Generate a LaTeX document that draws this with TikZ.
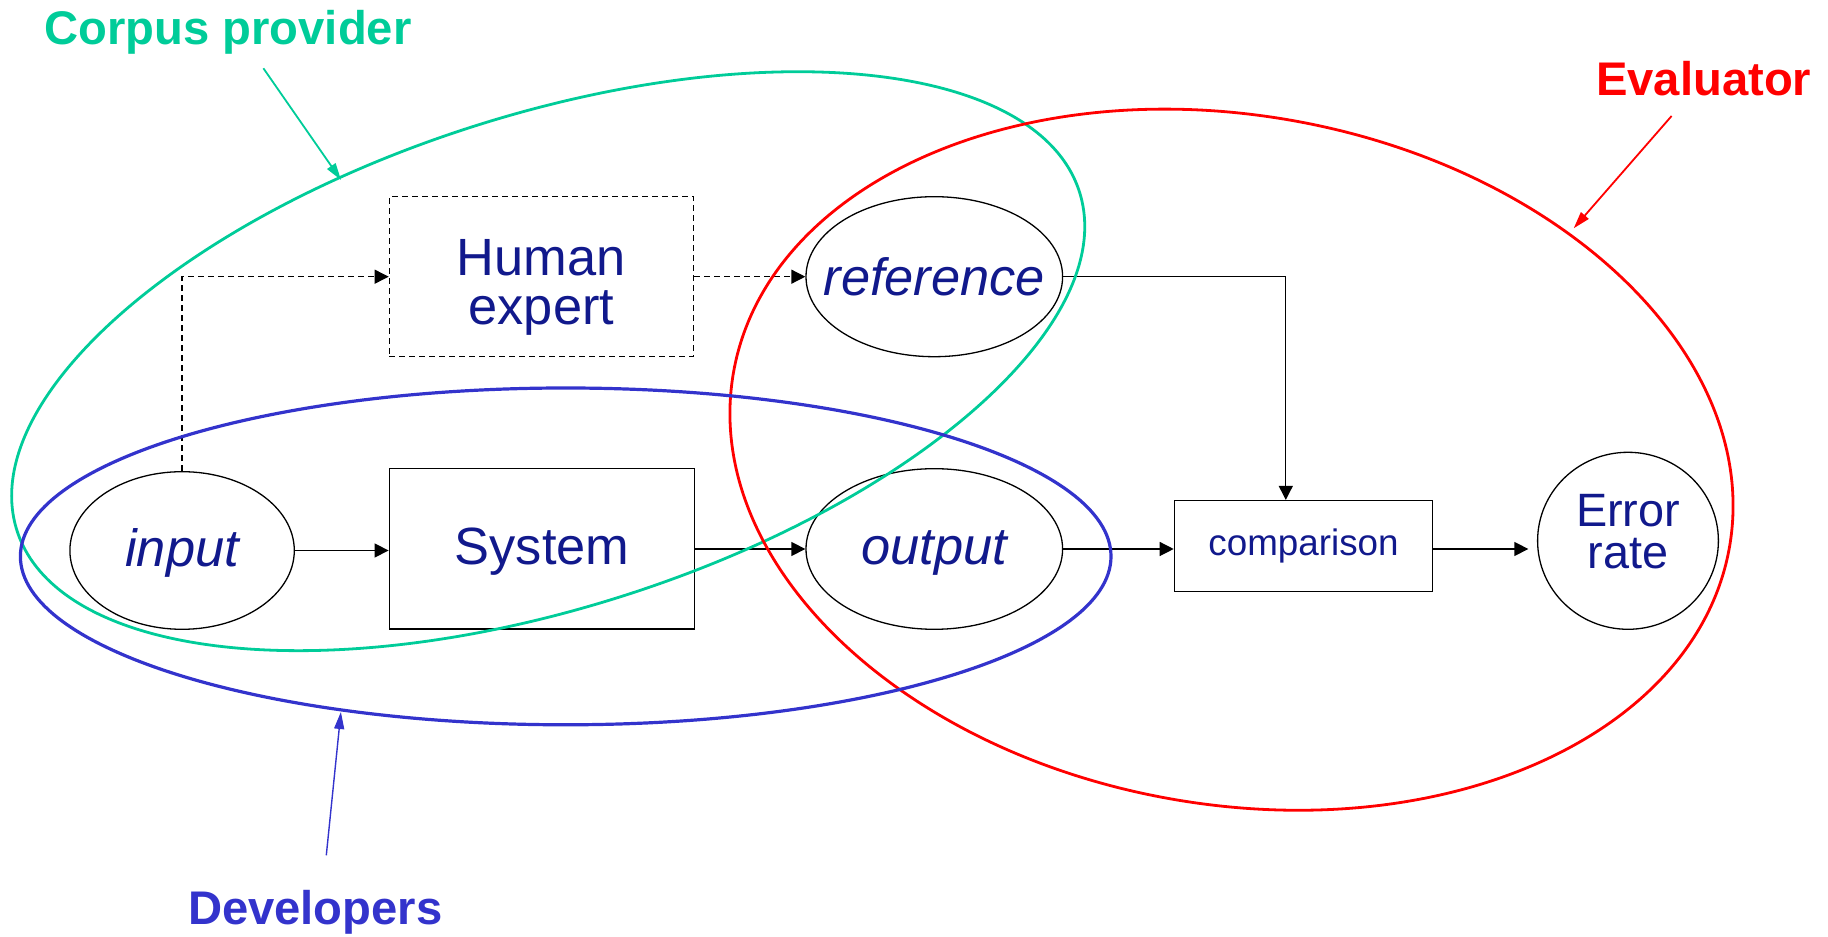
\documentclass[tikz,border=0pt]{standalone}
\usepackage{fontspec}
\setmainfont{Liberation Sans}
\usetikzlibrary{shapes.geometric,arrows.meta,calc}
\definecolor{navy}{RGB}{17,25,140}
\definecolor{cgreen}{RGB}{0,204,153}
\definecolor{cblue}{RGB}{51,51,204}
\definecolor{cred}{RGB}{255,0,0}
\newcommand{\lowerby}[2]{\raisebox{-#1}[\height][\depth]{#2}}
\begin{document}
\begin{tikzpicture}[x=0.5pt,y=0.5pt,
  every node/.style={text=navy},
  oval/.style={draw, ellipse, inner sep=0pt, line width=0.65pt},
  box/.style={draw, rectangle, inner sep=0pt, line width=0.8pt},
  dbox/.style={draw, rectangle, inner sep=0pt, line width=0.65pt, dash pattern=on 3pt off 2pt},
  mainfont/.style={font=\fontsize{26.2}{24.5}\selectfont},
  conn/.style={line width=0.65pt, -{Triangle[length=7pt,width=7pt]}},
  dconn/.style={conn, dash pattern=on 3pt off 2pt},
  lbl/.style={font=\fontsize{23.6}{26}\selectfont\bfseries, anchor=base west, inner sep=0pt},
  lblarrow/.style={line width=0.9pt, -{Triangle[length=8.5pt,width=5pt]}}
]
\useasboundingbox (0,0) rectangle (1828,937);

% nodes
\node[oval, mainfont, minimum width=112.2pt, minimum height=78.8pt] (in) at (182.1,386.5) {\makebox[0pt]{\lowerby{1pt}{\itshape input}}};
\node[box, mainfont, minimum width=152.6pt, minimum height=80.3pt] (sys) at (542,388) {\lowerby{1.4pt}{System}};
\node[oval, mainfont, minimum width=128.3pt, minimum height=80.3pt] (out) at (934.3,388) {\makebox[0pt]{\lowerby{2pt}{\itshape output}}};
\node[oval, mainfont, minimum width=128.3pt, minimum height=80pt] (ref) at (934.3,660.3) {\makebox[0pt]{\itshape reference}};
\node[dbox, minimum width=152.1pt, minimum height=80pt] (hum) at (541.4,660.3) {};
\node[mainfont, align=center, inner sep=0pt] (humtxt) at ([yshift=-5.5pt]hum.center) {Human\\expert};
\node[box, font=\fontsize{18.4}{20}\selectfont, minimum width=129pt, minimum height=45.5pt] (cmp) at (1303.5,390.8) {comparison};
\node[oval, minimum width=90.4pt, minimum height=88.5pt] (err) at (1628,396.2) {};
\node[font=\fontsize{23.4}{21}\selectfont, align=center, inner sep=0pt] (errtxt) at ([yshift=4.5pt]err.center) {Error\\rate};

% connectors
\draw[conn] (in.east) -- (in.east -| sys.west);
\draw[conn] (sys.east |- out.west) -- (out.west);
\draw[conn] (out.east) -- (out.east -| cmp.west);
\draw[conn, shorten >=4.3pt] (out.east -| cmp.east) -- (out.east -| err.west);
\draw[conn] (ref.east) -| ([xshift=-8.85pt]cmp.north);
\draw[dconn] (in.north) |- (hum.west);
\draw[dconn] (hum.east) -- (ref.west);

% groups
\draw[cgreen, line width=1.4pt, shift={(548.2,575.8)}, rotate=17.68] (0,0) ellipse [x radius=278.8pt, y radius=123.2pt];
\draw[cred, line width=1.4pt, shift={(1231.5,477.3)}, rotate=-9.96] (0,0) ellipse [x radius=252.8pt, y radius=172.3pt];
\draw[cblue, line width=1.6pt] (565.7,380.6) ellipse [x radius=272.65pt, y radius=84.2pt];

% labels
\node[lbl, text=cgreen] (cp) at (44,892) {Corpus provider};
\node[lbl, text=cred] (ev) at (1595.8,841) {Evaluator};
\node[lbl, text=cblue] (dev) at (187.6,12.7) {Developers};
\coordinate (cpS) at (263.4,868.7); \coordinate (cpT) at (341,757);
\coordinate (evS) at (1671.6,821); \coordinate (evT) at (1573.7,708.7);
\coordinate (devS) at (326.3,81.7); \coordinate (devT) at (340.9,225);
\draw[lblarrow, cgreen] (cpS) -- (cpT);
\draw[lblarrow, cred] (evS) -- (evT);
\draw[lblarrow, cblue, line width=0.7pt] (devS) -- (devT);
\end{tikzpicture}
\end{document}
